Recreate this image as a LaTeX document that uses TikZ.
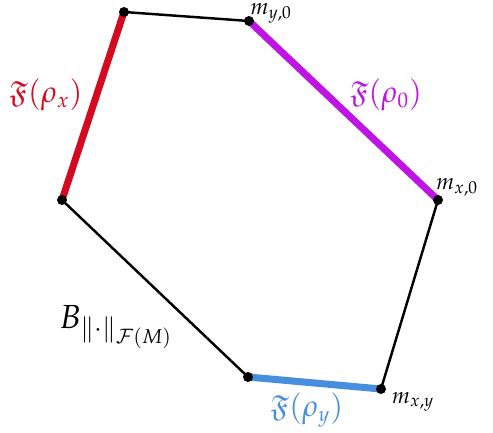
\documentclass[tikz,border=0pt]{standalone}
\usepackage{amssymb}
\usepackage{mathpazo}
\usetikzlibrary{positioning}
\definecolor{facered}{RGB}{212,10,32}
\definecolor{facemag}{RGB}{190,20,228}
\definecolor{faceblue}{RGB}{72,142,222}
\begin{document}
\begin{tikzpicture}[
    vertex/.style={circle, fill=black, inner sep=0pt, minimum size=0.2cm},
    edge/.style={draw=black, line width=1.4pt},
    face/.style={line width=4pt},
    facelabel/.style={font=\LARGE},
    ptlabel/.style={font=\fontsize{13}{15}\selectfont},
]
\useasboundingbox (0,0) rectangle (9.86,8.66);
\coordinate (a) at (2.48,8.42);
\coordinate (my0) at (4.98,8.24);
\coordinate (mx0) at (8.76,4.66);
\coordinate (mxy) at (7.62,0.88);
\coordinate (e) at (4.96,1.12);
\coordinate (f) at (1.24,4.66);
% black sides
\draw[edge] (a) -- (my0);
\draw[edge] (mx0) -- (mxy);
\draw[edge] (e) -- (f);
% faces
\draw[face, facered] (f) -- (a);
\draw[face, facemag] (my0) -- (mx0);
\draw[face, faceblue] (e) -- (mxy);
\foreach \v in {a,my0,mx0,mxy,e,f}
    \node[vertex] at (\v) {};
\node[ptlabel] (lmy0) at (5.42,8.40) {$m_{y,0}$};
\node[ptlabel] (lmx0) at (9.14,4.92) {$m_{x,0}$};
\node[ptlabel] (lmxy) at (8.26,0.62) {$m_{x,y}$};
\node[facelabel, text=facered] (lrx) at (0.92,6.76) {$\mathfrak{F}(\rho_x)$};
\node[facelabel, text=facemag] (lr0) at (7.72,6.76) {$\mathfrak{F}(\rho_0)$};
\node[facelabel, text=faceblue] (lry) at (6.14,0.46) {$\mathfrak{F}(\rho_y)$};
\node[font=\fontsize{19}{22}\selectfont] (lball) at (2.32,2.12) {$B_{\|\cdot\|_{\mathcal{F}(M)}}$};
\end{tikzpicture}
\end{document}
